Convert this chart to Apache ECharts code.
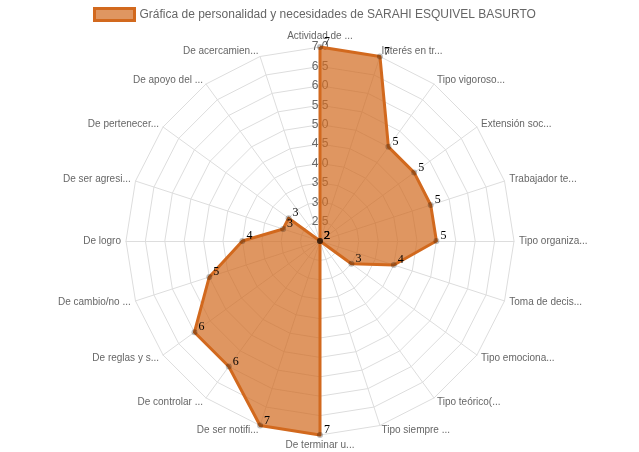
<!DOCTYPE html>
<html><head><meta charset="utf-8">
<script src="https://cdn.jsdelivr.net/npm/echarts@6/dist/echarts.min.js"></script>
<style>html,body{margin:0;padding:0;background:#fff}#c{width:639px;height:452px}</style>
</head><body><div id="c"></div>
<script>
const seriesName = 'Gráfica de personalidad y necesidades de SARAHI ESQUIVEL BASURTO';
const categories = ['Actividad de ...','Interés en tr...','Tipo vigoroso...','Extensión soc...','Trabajador te...','Tipo organiza...','Toma de decis...','Tipo emociona...','Tipo teórico(...','Tipo siempre ...','De terminar u...','De ser notifi...','De controlar ...','De reglas y s...','De cambio/no ...','De logro','De ser agresi...','De pertenecer...','De apoyo del ...','De acercamien...'];
const values = [7,7,5,5,5,5,4,3,2,2,7,7,6,6,5,4,3,3,2,2];
const axisMin = 2, axisMax = 7, axisStep = 0.5;

// ECharts lays indicators counter-clockwise; reorder so they read clockwise
const order = [0];
for (let i = categories.length - 1; i >= 1; i--) order.push(i);
const indicators = order.map((i, k) => {
  const o = {name: categories[i], min: axisMin, max: axisMax};
  if (k === 0) o.axisLabel = {show: true};
  return o;
});
const dataOrdered = order.map(i => values[i]);

const fill = 'rgba(210,105,30,0.7)';
const stroke = '#D2691E';
const chart = echarts.init(document.getElementById('c'));
chart.setOption({
  animation: false,
  legend: {
    top: 7, left: 93, padding: 0,
    itemWidth: 40, itemHeight: 12, itemGap: 6,
    textStyle: {color: '#666', fontSize: 12, fontFamily: 'Liberation Sans, Arial, sans-serif'},
    data: [{name: seriesName, icon: 'rect', itemStyle: {color: fill, borderColor: stroke, borderWidth: 3}}]
  },
  radar: {
    center: [320, 241], radius: 194,
    startAngle: 90,
    shape: 'polygon',
    splitNumber: (axisMax - axisMin) / axisStep,
    indicator: indicators,
    axisName: {color: '#666', fontSize: 10, fontFamily: 'Liberation Sans, Arial, sans-serif'},
    nameGap: 5,
    axisLine: {lineStyle: {color: '#ddd', width: 1}},
    splitLine: {lineStyle: {color: '#ddd', width: 1}},
    splitArea: {show: false},
    axisTick: {show: false},
    axisLabel: {
      show: false, color: '#666', fontSize: 12, fontFamily: 'Liberation Sans, Arial, sans-serif',
      margin: 0, align: 'center', verticalAlign: 'middle',
      formatter: v => (Math.abs(v - axisMin) < 1e-9 ? '' : Number(v).toFixed(1))
    }
  },
  series: [{
    name: seriesName,
    type: 'radar',
    symbol: 'circle', symbolSize: 6,
    itemStyle: {color: 'rgba(0,0,0,0.25)'},
    lineStyle: {color: stroke, width: 3},
    areaStyle: {color: fill, opacity: 1},
    label: {
      show: true, position: 'right', distance: 1, offset: [0, -5],
      color: '#000', fontSize: 12, fontFamily: 'Liberation Serif, Times New Roman, serif'
    },
    data: [{name: seriesName, value: dataOrdered}]
  }]
});
</script></body></html>
